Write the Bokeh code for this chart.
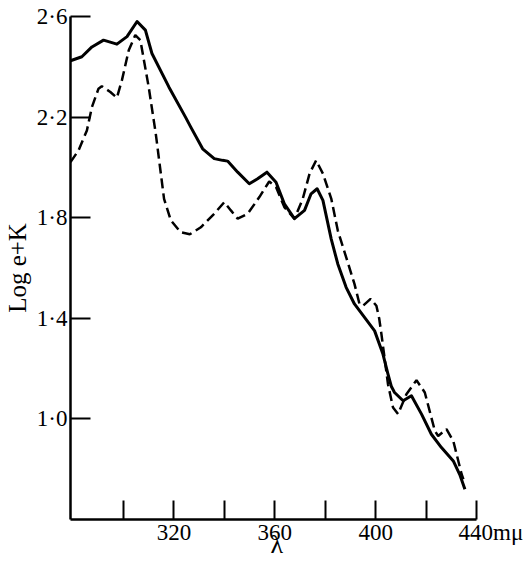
from bokeh.plotting import figure
from bokeh.models import Range1d, FixedTicker
from bokeh.embed import file_html
from bokeh.resources import INLINE

# wavelength (m-mu) and Log e + K, solid curve
solid_lambda = [279.0, 283.5, 287.5, 292.1, 297.4, 301.4, 305.4, 308.7, 311.3, 318.0,
                324.6, 326.7, 331.4, 336.0, 339.3, 341.3, 345.3, 349.9, 353.2, 356.9,
                360.5, 363.8, 367.8, 371.8, 374.4, 376.8, 379.1, 382.4, 385.0, 388.3,
                391.6, 395.6, 399.6, 402.9, 404.9, 406.2, 407.5, 410.9, 414.2, 418.2,
                422.1, 426.1, 430.8, 433.5, 435.4]
solid_value = [2.424, 2.440, 2.479, 2.506, 2.490, 2.520, 2.580, 2.546, 2.453, 2.320,
               2.200, 2.160, 2.074, 2.035, 2.028, 2.025, 1.981, 1.935, 1.955, 1.981,
               1.941, 1.855, 1.796, 1.829, 1.895, 1.915, 1.869, 1.715, 1.616, 1.523,
               1.457, 1.404, 1.350, 1.258, 1.178, 1.130, 1.105, 1.072, 1.092, 1.019,
               0.939, 0.886, 0.833, 0.775, 0.720]

# dashed curve
dashed_lambda = [279.0, 282.2, 285.5, 287.5, 290.1, 291.4, 294.8, 297.4, 299.4, 302.1,
                 304.7, 306.7, 310.0, 312.8, 316.1, 318.8, 322.7, 326.3, 330.7, 336.0,
                 340.0, 342.6, 345.3, 349.3, 353.9, 357.8, 360.5, 363.8, 367.8, 371.1,
                 373.8, 376.4, 379.1, 382.4, 385.0, 388.3, 391.6, 393.6, 395.0, 398.0,
                 400.3, 401.4, 402.3, 404.9, 406.9, 408.9, 412.2, 416.2, 419.5, 423.5,
                 424.8, 428.1, 430.8, 434.1, 434.8]
dashed_value = [2.021, 2.068, 2.147, 2.240, 2.313, 2.323, 2.300, 2.277, 2.347, 2.466,
                2.526, 2.506, 2.320, 2.135, 1.875, 1.789, 1.742, 1.734, 1.762, 1.816,
                1.862, 1.829, 1.796, 1.816, 1.882, 1.944, 1.922, 1.842, 1.796, 1.875,
                1.975, 2.028, 1.975, 1.876, 1.749, 1.643, 1.537, 1.457, 1.450, 1.477,
                1.450, 1.400, 1.337, 1.138, 1.045, 1.019, 1.098, 1.154, 1.105, 0.952,
                0.932, 0.959, 0.912, 0.780, 0.760]

NB = "\u00a0"
x_ticks = [300, 320, 340, 360, 380, 400, 420, 440]
x_tick_labels = {300: "", 320: "320", 340: "", 360: "360", 380: "", 400: "400", 420: "",
                 440: NB * 5 + "440mμ"}
y_ticks = [1.0, 1.4, 1.8, 2.2, 2.6]
y_tick_labels = {1.0: "1·0", 1.4: "1·4", 1.8: "1·8", 2.2: "2·2", 2.6: "2·6"}
x_title = NB + "λ"
y_title = "Log e+K"

FONT = "Liberation Serif"

p = figure(width=527, height=561, output_backend="svg", toolbar_location=None,
           x_range=Range1d(279, 440), y_range=Range1d(0.6, 2.6),
           min_border_left=70, min_border_right=51, min_border_top=16, min_border_bottom=42)
p.outline_line_color = None
p.grid.visible = False
p.background_fill_color = "white"
p.border_fill_color = "white"

p.line(solid_lambda, solid_value, line_color="black", line_width=3, line_join="round")
p.line(dashed_lambda, dashed_value, line_color="black", line_width=2.5, line_dash="10 5")

for ax, ticks, labels in ((p.xaxis[0], x_ticks, x_tick_labels), (p.yaxis[0], y_ticks, y_tick_labels)):
    ax.ticker = FixedTicker(ticks=ticks)
    ax.major_label_overrides = labels
    ax.axis_line_width = 2.5
    ax.axis_line_color = "black"
    ax.major_tick_line_width = 2
    ax.major_tick_line_color = "black"
    ax.major_tick_out = 0
    ax.minor_tick_line_color = None
    ax.major_label_text_font = FONT
    ax.major_label_text_font_size = "23px"
    ax.major_label_text_color = "black"
    ax.axis_label_text_font = FONT
    ax.axis_label_text_font_style = "normal"
    ax.axis_label_text_color = "black"

p.xaxis.major_tick_in = 19
p.xaxis.major_label_standoff = 0
p.xaxis.axis_label = x_title
p.xaxis.axis_label_text_font_size = "26px"
p.xaxis.axis_label_standoff = -18

p.yaxis.major_tick_in = 20
p.yaxis.major_label_standoff = 3
p.yaxis.axis_label = y_title
p.yaxis.axis_label_text_font_size = "25px"
p.yaxis.axis_label_standoff = 3

open("out.html", "w").write(file_html(p, INLINE))
